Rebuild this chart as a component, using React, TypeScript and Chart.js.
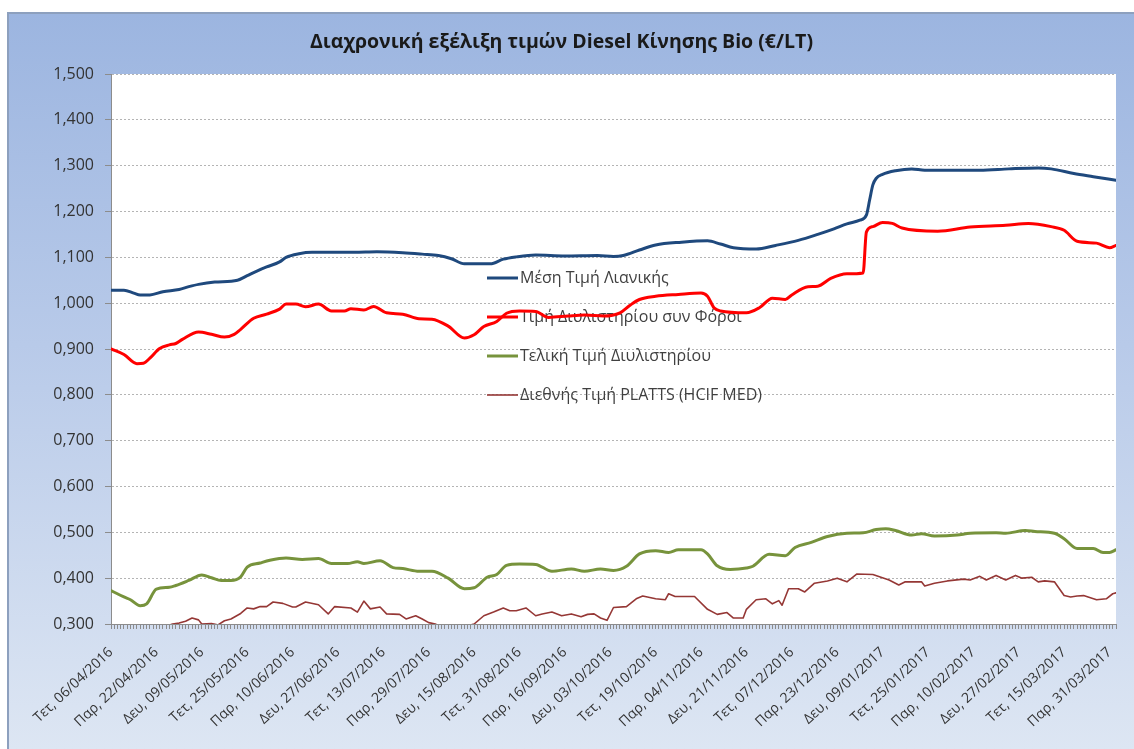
import React, { useEffect, useRef } from 'react';
import { Chart, registerables } from 'chart.js';

Chart.register(...registerables);

// ---- categories (trading days Mon–Sat) ----
const START_YEAR = 2016;
const START_MONTH = 3; // April (0-based)
const START_DAY = 6;
const POINT_COUNT = 311;
const LABEL_EVERY = 14;
const DAY_NAMES = ['Κυρ', 'Δευ', 'Τρι', 'Τετ', 'Πεμ', 'Παρ', 'Σαβ'];

function buildCategories(): string[] {
  const out: string[] = [];
  const d = new Date(START_YEAR, START_MONTH, START_DAY, 12);
  while (out.length < POINT_COUNT) {
    const wd = d.getDay();
    if (wd !== 0) {
      const dd = String(d.getDate()).padStart(2, '0');
      const mm = String(d.getMonth() + 1).padStart(2, '0');
      out.push(`${DAY_NAMES[wd]}, ${dd}/${mm}/${d.getFullYear()}`);
    }
    d.setDate(d.getDate() + 1);
  }
  return out;
}
const categories = buildCategories();

// ---- series names ----
const TITLE = 'Διαχρονική εξέλιξη τιμών Diesel Κίνησης Bio (€/LT)';
const seriesNames = [
  'Μέση Τιμή Λιανικής',
  'Τιμή Διυλιστηρίου συν Φόροι',
  'Τελική Τιμή Διυλιστηρίου',
  'Διεθνής Τιμή PLATTS (HCIF MED)',
];

// ---- y axis ----
const Y_MIN = 0.3;
const Y_MAX = 1.5;
const Y_STEP = 0.1;

// ---- series values: [category index, value] ----
const retailPrice: [number, number][] = [
  [0, 1.028], [4, 1.028], [7, 1.022], [9, 1.018], [12, 1.018], [16, 1.025], [21, 1.030], [24, 1.036],
  [27, 1.041], [32, 1.046], [39, 1.050], [42, 1.060], [45, 1.070], [48, 1.079], [52, 1.090], [54, 1.100],
  [58, 1.108], [62, 1.111], [75, 1.111], [82, 1.112], [90, 1.110], [96, 1.107], [101, 1.104], [105, 1.097],
  [109, 1.086], [117, 1.086], [121, 1.096], [125, 1.101], [131, 1.105], [140, 1.103], [150, 1.104], [155, 1.102],
  [158, 1.104], [163, 1.116], [168, 1.127], [176, 1.133], [184, 1.136], [188, 1.129], [192, 1.121], [199, 1.118],
  [205, 1.126], [212, 1.137], [218, 1.150], [223, 1.162], [227, 1.173], [231, 1.181], [233, 1.192], [234, 1.225],
  [235, 1.258], [236, 1.272], [238, 1.281], [242, 1.289], [247, 1.293], [251, 1.290], [268, 1.290], [277, 1.293],
  [286, 1.295], [290, 1.293], [297, 1.283], [303, 1.276], [310, 1.268],
];

const refineryWithTaxes: [number, number][] = [
  [0, 0.900], [4, 0.888], [8, 0.868], [10, 0.869], [12, 0.880], [15, 0.901], [18, 0.909], [20, 0.912],
  [22, 0.921], [27, 0.937], [31, 0.932], [35, 0.926], [38, 0.932], [40, 0.943], [44, 0.967], [48, 0.976],
  [52, 0.987], [54, 0.998], [57, 0.998], [60, 0.992], [64, 0.998], [68, 0.983], [72, 0.983], [74, 0.988],
  [78, 0.985], [81, 0.993], [85, 0.979], [90, 0.976], [95, 0.966], [99, 0.965], [104, 0.950], [109, 0.924],
  [112, 0.931], [115, 0.949], [119, 0.960], [122, 0.978], [126, 0.983], [131, 0.982], [135, 0.969], [141, 0.972],
  [146, 0.974], [152, 0.972], [157, 0.979], [160, 0.995], [163, 1.008], [168, 1.015], [175, 1.019], [182, 1.022],
  [184, 1.015], [186, 0.990], [188, 0.983], [196, 0.979], [200, 0.990], [204, 1.011], [208, 1.008], [210, 1.018],
  [215, 1.036], [218, 1.037], [222, 1.054], [227, 1.064], [232, 1.066], [233, 1.155], [235, 1.167], [238, 1.176],
  [241, 1.174], [244, 1.164], [255, 1.157], [265, 1.166], [276, 1.170], [283, 1.174], [290, 1.167], [294, 1.159],
  [298, 1.135], [304, 1.131], [308, 1.121], [310, 1.126],
];

const refineryFinal: [number, number][] = [
  [0, 0.373], [4, 0.359], [6, 0.353], [9, 0.340], [11, 0.344], [14, 0.376], [18, 0.380], [20, 0.384],
  [24, 0.395], [28, 0.407], [31, 0.401], [34, 0.395], [37, 0.395], [40, 0.403], [42, 0.424], [46, 0.433],
  [49, 0.439], [54, 0.444], [59, 0.441], [64, 0.443], [68, 0.432], [73, 0.432], [76, 0.436], [78, 0.432],
  [83, 0.438], [87, 0.423], [90, 0.421], [95, 0.415], [99, 0.415], [104, 0.400], [109, 0.377], [112, 0.379],
  [116, 0.402], [119, 0.408], [122, 0.428], [126, 0.431], [131, 0.430], [136, 0.415], [142, 0.420], [146, 0.415],
  [151, 0.420], [155, 0.417], [159, 0.426], [163, 0.453], [168, 0.460], [172, 0.456], [175, 0.462], [182, 0.462],
  [184, 0.453], [187, 0.427], [191, 0.419], [196, 0.422], [198, 0.426], [203, 0.452], [208, 0.449], [211, 0.467],
  [216, 0.478], [221, 0.491], [227, 0.498], [232, 0.499], [236, 0.506], [239, 0.508], [242, 0.504], [247, 0.494],
  [250, 0.497], [254, 0.492], [261, 0.494], [265, 0.498], [273, 0.499], [276, 0.498], [282, 0.504], [285, 0.502],
  [291, 0.498], [294, 0.486], [298, 0.465], [303, 0.465], [306, 0.456], [308, 0.456], [310, 0.462],
];

const plattsPrice: [number, number][] = [
  [0, 0.285], [5, 0.270], [9, 0.255], [12, 0.262], [15, 0.290], [19, 0.300], [21, 0.302], [23, 0.306],
  [25, 0.313], [27, 0.309], [28, 0.300], [31, 0.301], [33, 0.298], [35, 0.307], [37, 0.311], [40, 0.323],
  [42, 0.335], [44, 0.333], [46, 0.338], [48, 0.338], [50, 0.348], [53, 0.345], [56, 0.337], [57, 0.337],
  [60, 0.348], [64, 0.342], [67, 0.322], [69, 0.338], [74, 0.335], [76, 0.326], [78, 0.350], [80, 0.333],
  [83, 0.337], [85, 0.322], [89, 0.321], [91, 0.311], [94, 0.318], [96, 0.311], [98, 0.303], [100, 0.300],
  [103, 0.290], [108, 0.285], [111, 0.298], [112, 0.300], [115, 0.318], [118, 0.326], [121, 0.335], [123, 0.329],
  [125, 0.329], [128, 0.335], [131, 0.318], [133, 0.322], [136, 0.326], [139, 0.318], [142, 0.322], [145, 0.316],
  [147, 0.321], [149, 0.322], [151, 0.313], [153, 0.308], [155, 0.336], [159, 0.338], [162, 0.355], [164, 0.361],
  [168, 0.355], [171, 0.353], [172, 0.366], [174, 0.360], [180, 0.360], [184, 0.332], [187, 0.321], [190, 0.325],
  [192, 0.313], [195, 0.313], [196, 0.332], [199, 0.353], [202, 0.355], [204, 0.344], [206, 0.351], [207, 0.341],
  [209, 0.377], [212, 0.377], [214, 0.370], [217, 0.389], [221, 0.394], [224, 0.400], [227, 0.392], [230, 0.409],
  [235, 0.408], [240, 0.396], [243, 0.385], [245, 0.392], [250, 0.392], [251, 0.383], [254, 0.389], [258, 0.394],
  [263, 0.398], [265, 0.396], [268, 0.404], [270, 0.396], [273, 0.406], [276, 0.396], [279, 0.406], [281, 0.400],
  [284, 0.402], [286, 0.392], [288, 0.394], [291, 0.392], [294, 0.362], [296, 0.359], [298, 0.361], [300, 0.362],
  [304, 0.353], [307, 0.355], [309, 0.366], [310, 0.368],
];

const seriesData = [retailPrice, refineryWithTaxes, refineryFinal, plattsPrice];
const seriesColors = ['#1F497D', '#FF0000', '#77933C', '#953735'];
const seriesWidths = [3, 3, 3, 1.6];

const FONT = "'Open Sans', 'DejaVu Sans', sans-serif";

const plotBackground = {
  id: 'plotBackground',
  beforeDraw(chart: any) {
    const { ctx, chartArea } = chart;
    ctx.save();
    ctx.fillStyle = '#ffffff';
    ctx.fillRect(chartArea.left, chartArea.top, chartArea.right - chartArea.left, chartArea.bottom - chartArea.top);
    ctx.restore();
  },
};

const inlineLegend = {
  id: 'inlineLegend',
  beforeDatasetsDraw(chart: any) {
    const { ctx, chartArea } = chart;
    const x0 = chartArea.left + 376;
    ctx.save();
    chart.data.datasets.forEach((ds: any, i: number) => {
      const y = chartArea.top + 204 + i * 39;
      ctx.strokeStyle = ds.borderColor;
      ctx.lineWidth = ds.borderWidth;
      ctx.beginPath();
      ctx.moveTo(x0, y);
      ctx.lineTo(x0 + 31, y);
      ctx.stroke();
      ctx.fillStyle = '#404040';
      ctx.font = `16px ${FONT}`;
      ctx.textBaseline = 'middle';
      ctx.textAlign = 'left';
      ctx.fillText(ds.label, x0 + 33, y);
    });
    ctx.restore();
  },
};

export default function App() {
  const canvasRef = useRef<HTMLCanvasElement | null>(null);

  useEffect(() => {
    if (!canvasRef.current) return;
    const chart = new Chart(canvasRef.current, {
      type: 'line',
      data: {
        labels: categories,
        datasets: seriesNames.map((name, s) => ({
          label: name,
          data: seriesData[s].map(([i, v]) => ({ x: categories[i], y: v })),
          borderColor: seriesColors[s],
          backgroundColor: seriesColors[s],
          borderWidth: seriesWidths[s],
          pointRadius: 0,
          pointHoverRadius: 0,
          fill: false,
          cubicInterpolationMode: s === 3 ? 'default' : 'monotone',
          tension: 0,
          borderJoinStyle: 'round',
          borderCapStyle: 'round',
          clip: 0,
        })) as any,
      },
      options: {
        animation: false,
        responsive: false,
        events: [],
        layout: { padding: { left: 0, right: 18, top: 0, bottom: 0 } },
        plugins: {
          legend: { display: false },
          tooltip: { enabled: false },
          title: {
            display: true,
            text: TITLE,
            color: '#1a1a1a',
            font: { family: FONT, size: 19.5, weight: 'bold' },
            padding: { top: 18.3, bottom: 20.3 },
          },
        },
        scales: {
          x: {
            type: 'category',
            offset: false,
            grid: {
              drawOnChartArea: false,
              drawTicks: true,
              tickLength: 5,
              tickColor: '#8c8c8c',
            },
            border: { display: true, color: '#8c8c8c', width: 1 },
            ticks: {
              autoSkip: false,
              minRotation: 43,
              maxRotation: 43,
              padding: 15,
              color: '#333333',
              font: { family: FONT, size: 14 },
              callback: (_v: any, idx: number) => (idx % LABEL_EVERY === 0 ? categories[idx] : ''),
            },
            afterFit: (scale: any) => {
              scale.height = 125;
              scale.paddingLeft = 0;
              scale.paddingRight = 0;
            },
          },
          y: {
            min: Y_MIN,
            max: Y_MAX,
            grid: {
              color: '#b4b4b4',
              lineWidth: 1,
              drawTicks: true,
              tickLength: 6,
              tickColor: '#8c8c8c',
              tickBorderDash: [],
            },
            border: { display: true, color: '#8c8c8c', width: 1, dash: [2, 2] },
            ticks: {
              stepSize: Y_STEP,
              padding: 11,
              color: '#333333',
              font: { family: FONT, size: 16 },
              callback: (v: any) => Number(v).toFixed(3).replace('.', ','),
            },
            afterFit: (scale: any) => {
              scale.width = 104;
            },
          },
        },
      },
      plugins: [plotBackground, inlineLegend],
    });
    return () => chart.destroy();
  }, []);

  return (
    <div style={{ position: 'absolute', left: 0, top: 0, width: 1134, height: 749, background: '#ffffff', overflow: 'hidden' }}>
      <div
        style={{
          position: 'absolute',
          left: 7,
          top: 12,
          width: 1127,
          height: 737,
          boxSizing: 'border-box',
          borderTop: '2px solid #8da0be',
          borderLeft: '2px solid #8da0be',
          background: 'linear-gradient(to bottom, #9cb5e0 0%, #b8cae9 45%, #dde6f3 100%)',
        }}
      />
      <canvas ref={canvasRef} width={1127} height={737} style={{ position: 'absolute', left: 7, top: 12, width: 1127, height: 737 }} />
    </div>
  );
}
